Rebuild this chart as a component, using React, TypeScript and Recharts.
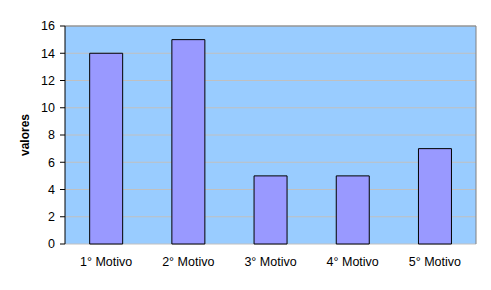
import React from "react";
import {
  BarChart,
  Bar,
  XAxis,
  YAxis,
  CartesianGrid,
  ReferenceLine,
} from "recharts";

const categories = ["1° Motivo", "2° Motivo", "3° Motivo", "4° Motivo", "5° Motivo"];
const valores = [14, 15, 5, 5, 7];
const yTicks = [0, 2, 4, 6, 8, 10, 12, 14, 16];
const boundaryTicks = [0, 1, 2, 3, 4, 5];

const data = categories.map((name, i) => ({ name, valores: valores[i], idx: i + 0.5 }));

const font = "Arial, 'Liberation Sans', sans-serif";

export default function App() {
  return (
    <div style={{ position: "absolute", left: 0, top: 0, width: 491, height: 290, background: "#fff" }}>
      <BarChart
        width={491}
        height={290}
        data={data}
        margin={{ top: 26, right: 15, bottom: 16, left: 0 }}
        barCategoryGap="30%"
      >
        <CartesianGrid
          vertical={false}
          stroke="#C0C0C0"
          fill="#99CCFF"
          fillOpacity={1}
          horizontalValues={yTicks}
        />
        <XAxis
          xAxisId="cat"
          dataKey="name"
          type="category"
          height={30}
          tickLine={false}
          axisLine={false}
          tickSize={5}
          tick={{ fill: "#000", fontSize: 12.5, fontFamily: font }}
          tickMargin={8}
        />
        <XAxis
          xAxisId="num"
          type="number"
          dataKey="idx"
          domain={[0, 5]}
          ticks={boundaryTicks}
          tick={false}
          height={0}
          tickSize={5}
          axisLine={{ stroke: "#000" }}
          tickLine={{ stroke: "#000" }}
          allowDataOverflow
        />
        <YAxis
          width={65}
          domain={[0, 16]}
          ticks={yTicks}
          interval={0}
          tickSize={5}
          tickMargin={5}
          axisLine={{ stroke: "#000" }}
          tickLine={{ stroke: "#000" }}
          tick={{ fill: "#000", fontSize: 12.5, fontFamily: font }}
          label={{
            value: "valores",
            angle: -90,
            position: "insideLeft",
            dx: 20,
            style: { fontSize: 12, fontWeight: "bold", fontFamily: font, fill: "#000", textAnchor: "middle" },
          }}
        />
        <ReferenceLine y={16} xAxisId="cat" stroke="#808080" strokeWidth={1} ifOverflow="extendDomain" />
        <ReferenceLine x={5} xAxisId="num" stroke="#808080" strokeWidth={1} />
        <Bar
          xAxisId="cat"
          dataKey="valores"
          fill="#9999FF"
          stroke="#000"
          strokeWidth={1}
          isAnimationActive={false}
        />
      </BarChart>
    </div>
  );
}
